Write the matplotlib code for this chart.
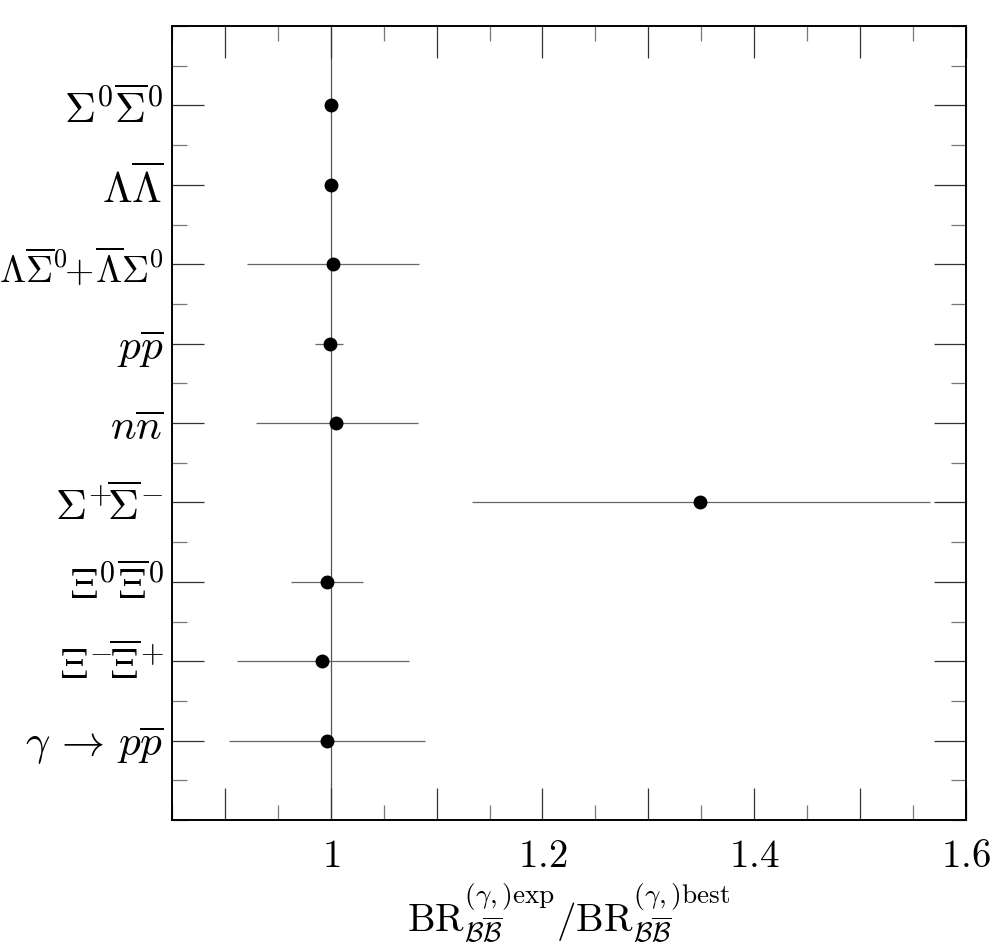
#!/usr/bin/env python3
"""
Baryon pair branching ratios: experiment vs best fit
"""

import matplotlib
import matplotlib.pyplot as plt
from matplotlib.ticker import MultipleLocator, FuncFormatter
import numpy as np

matplotlib.use('Agg')

plt.rcParams['mathtext.fontset'] = 'cm'
plt.rcParams['font.family'] = 'serif'
plt.rcParams['font.serif'] = ['DejaVu Serif']

# Channels, top to bottom
LABELS = [
    r'$\Sigma^0\overline{\Sigma}^0$',
    r'$\Lambda\overline{\Lambda}$',
    r'$\Lambda\overline{\Sigma}^0\!\!+\!\overline{\Lambda}\Sigma^0$',
    r'$p\overline{p}$',
    r'$n\overline{n}$',
    r'$\Sigma^{+}\!\overline{\Sigma}^{-}$',
    r'$\Xi^0\overline{\Xi}^0$',
    r'$\Xi^{-}\!\overline{\Xi}^{+}$',
    r'$\gamma\,\rightarrow\,p\overline{p}$',
]
RATIO = [1.000, 1.000, 1.002, 0.999, 1.005, 1.349, 0.996, 0.992, 0.996]
ERR_LO = [0.0, 0.0, 0.081, 0.014, 0.076, 0.216, 0.034, 0.081, 0.092]
ERR_HI = [0.0, 0.0, 0.081, 0.013, 0.077, 0.217, 0.034, 0.082, 0.093]

XLIM = (0.85, 1.6)
XLABELLED = [1.0, 1.2, 1.4, 1.6]


def xfmt(v, pos):
    for t in XLABELLED:
        if abs(v - t) < 1e-6:
            return r'$%g$' % t
    return ''


fig = plt.figure(figsize=(9.94, 9.5), dpi=100)
ax = fig.add_axes([0.173, 0.1368, 0.7988, 0.8358])

n = len(LABELS)
y = np.arange(n, 0, -1)

ax.axvline(1.0, color='#555555', lw=0.9, zorder=1)
ax.errorbar(RATIO, y, xerr=[ERR_LO, ERR_HI], fmt='none', ecolor='#666666',
            elinewidth=0.9, capsize=0, zorder=2)
ax.plot(RATIO, y, 'o', color='black', markersize=9, zorder=3)

ax.set_xlim(*XLIM)
ax.set_ylim(0, n + 1)
ax.xaxis.set_major_locator(MultipleLocator(0.1))
ax.xaxis.set_major_formatter(FuncFormatter(xfmt))
ax.xaxis.set_minor_locator(MultipleLocator(0.05))
ax.set_yticks(y)
ax.set_yticklabels(LABELS, fontsize=31)
ax.yaxis.set_minor_locator(MultipleLocator(0.5))

ax.tick_params(which='major', direction='in', length=23, width=0.9,
               color='#333333', top=True, right=True)
ax.tick_params(which='minor', direction='in', length=11, width=0.9,
               color='#777777', top=True, right=True)
ax.tick_params(axis='x', labelsize=28, pad=13)
ax.tick_params(axis='y', pad=6)
# the mixed channel name is long, keep it inside the figure
ax.get_yticklabels()[2].set_fontsize(27)

for s in ax.spines.values():
    s.set_linewidth(1.4)

ax.set_xlabel(r'$\mathrm{BR}^{(\gamma,)\mathrm{exp}}_{\mathcal{B}\overline{\mathcal{B}}}'
              r'/\mathrm{BR}^{(\gamma,)\mathrm{best}}_{\mathcal{B}\overline{\mathcal{B}}}$',
              fontsize=28, labelpad=4)

plt.savefig('out.png', dpi=100)
plt.close()
